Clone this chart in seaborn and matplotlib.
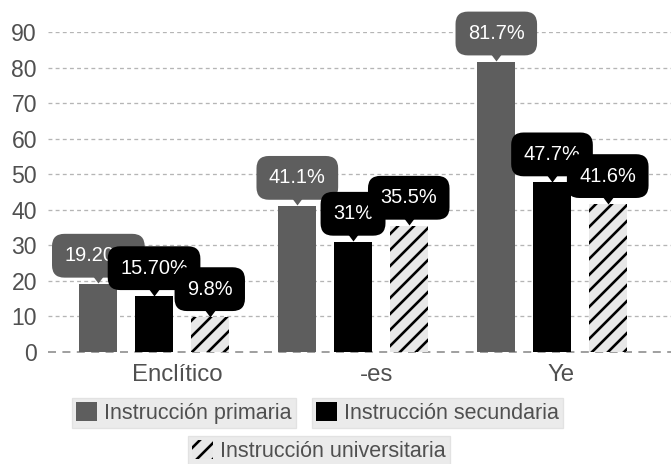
import matplotlib
matplotlib.use("Agg")
import matplotlib.pyplot as plt
from matplotlib.transforms import ScaledTranslation
import seaborn as sns
import pandas as pd

categories = ["Enclítico", "-es", "Ye"]
series = ["Instrucción primaria", "Instrucción secundaria", "Instrucción universitaria"]
primaria = [19.2, 41.1, 81.7]
secundaria = [15.7, 31.0, 47.7]
universitaria = [9.8, 35.5, 41.6]
primaria_labels = ["19.20%", "41.1%", "81.7%"]
secundaria_labels = ["15.70%", "31%", "47.7%"]
universitaria_labels = ["9.8%", "35.5%", "41.6%"]
y_ticks = [0, 10, 20, 30, 40, 50, 60, 70, 80, 90]

DPI = 96
W, H = 671, 464


def pt(px):
    """Convert a size in pixels to points at the figure resolution."""
    return px * 72.0 / DPI


sns.set_theme(style="white")
plt.rcParams["font.family"] = ["Liberation Sans", "DejaVu Sans"]
plt.rcParams["hatch.linewidth"] = pt(2.6)
plt.rcParams["hatch.color"] = "black"

fig = plt.figure(figsize=(W / DPI, H / DPI), dpi=DPI, facecolor="white")
ax = fig.add_axes([48 / W, (H - 352) / H, (W - 48) / W, 320 / H])

df = pd.DataFrame({
    "categoria": categories * 3,
    "nivel": [series[0]] * 3 + [series[1]] * 3 + [series[2]] * 3,
    "valor": primaria + secundaria + universitaria,
})
colors = ["#5e5e5e", "#000000", "#e8e8e8"]
sns.barplot(data=df, x="categoria", y="valor", hue="nivel", order=categories,
            hue_order=series, palette=colors, width=0.84, gap=0.32,
            saturation=1, linewidth=0, errorbar=None, ax=ax, zorder=2)
if ax.get_legend() is not None:
    ax.get_legend().remove()

# hatched bars for university level
for p in ax.containers[2]:
    p.set_hatch("//")
    p.set_edgecolor("black")
    p.set_linewidth(0)

ax.set_ylim(0, 90)
ax.set_xlim(-0.533, 2.598)
ax.set_yticks(y_ticks)
ax.set_yticklabels([str(t) for t in y_ticks])
ax.tick_params(axis="y", length=0, pad=pt(11), labelsize=pt(23), labelcolor="#505050")
ax.set_xticks([0, 1, 2])
ax.set_xticklabels([])
ax.tick_params(axis="x", length=0)
ax.set_xlabel("")
ax.set_ylabel("")
for s in ax.spines.values():
    s.set_visible(False)

# dashed grid
for t in y_ticks[1:]:
    ax.axhline(t, color="#b5b5b5", lw=pt(1.3), ls=(0, (3, 2.5)), zorder=1)
ax.axhline(0, color="#8a8a8a", lw=pt(1.6), ls=(0, (5, 4)), zorder=1, clip_on=False)

# category labels
label_shift = [23, 24, 9]
for i, (cat, dx) in enumerate(zip(categories, label_shift)):
    ax.annotate(cat, xy=(i, 0), xycoords=("data", "axes fraction"),
                xytext=(dx, -12), textcoords="offset pixels",
                ha="center", va="top", fontsize=pt(24), color="#505050")

# callout value labels
box_colors = ["#5e5e5e", "#000000", "#000000"]
all_vals = [primaria, secundaria, universitaria]
all_labels = [primaria_labels, secundaria_labels, universitaria_labels]
pointer = [(-6, 4), (6, 4), (0, -4), (-6, 4)]
for k, (cont, vals, labs) in enumerate(zip(ax.containers, all_vals, all_labels)):
    z = 5 + k
    for p, v, lab in zip(cont, vals, labs):
        xc = p.get_x() + p.get_width() / 2
        tr = ax.transData + ScaledTranslation(0, 4.5 / DPI, fig.dpi_scale_trans)
        ax.plot([xc], [v], marker=pointer, ms=pt(12), color=box_colors[k],
                mec="none", transform=tr, zorder=z, clip_on=False)
        ax.annotate(lab, xy=(xc, v), xytext=(0, 28), textcoords="offset pixels",
                    ha="center", va="center", fontsize=pt(20), color="white",
                    zorder=z, annotation_clip=False,
                    bbox=dict(boxstyle="round,pad=0.62", fc=box_colors[k], ec="none"))

# legend: one boxed item per series
handles = [c[0] for c in ax.containers]
legend_pos = [(72, 398), (312, 398), (188, 436)]
for h, name, (lx, ly) in zip(handles, series, legend_pos):
    leg = fig.legend([h], [name], loc="upper left",
                     bbox_to_anchor=(lx / W, 1 - ly / H), borderaxespad=0,
                     fontsize=pt(21.5), frameon=True, fancybox=False,
                     facecolor="#ebebeb", edgecolor="#e2e2e2", framealpha=1,
                     handlelength=1.0, handleheight=1.0, handletextpad=0.33,
                     borderpad=0.18)
    for t in leg.get_texts():
        t.set_color("#505050")

fig.savefig("out.png", dpi=DPI, facecolor="white")
